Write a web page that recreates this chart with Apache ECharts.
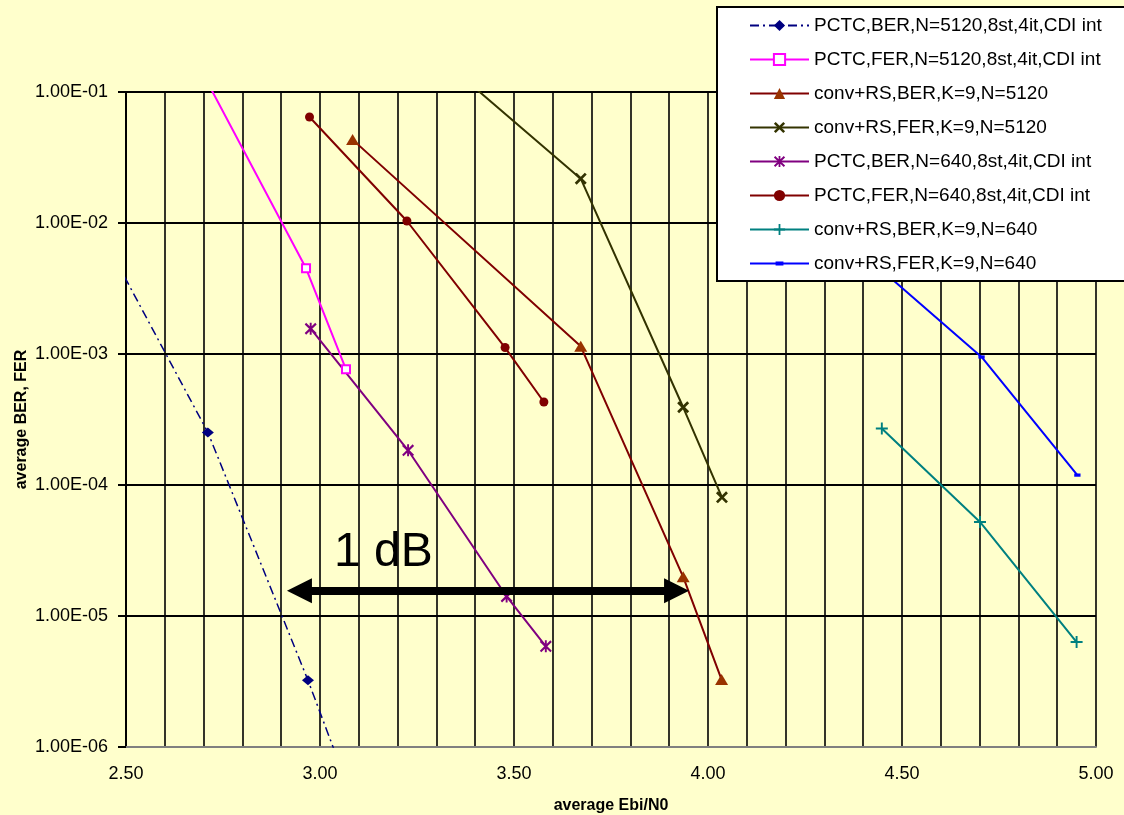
<!DOCTYPE html>
<html>
<head>
<meta charset="utf-8">
<script src="https://cdn.jsdelivr.net/npm/echarts@6/dist/echarts.min.js"></script>
<style>
html,body{margin:0;padding:0;background:#FFFFCC;}
#c{width:1124px;height:815px;}
</style>
</head>
<body>
<div id="c"></div>
<script>
const FONT = '"Liberation Sans", Arial, sans-serif';

// ---- data (x = average Ebi/N0, y = average BER / FER) ----
const names = [
  'PCTC,BER,N=5120,8st,4it,CDI int',
  'PCTC,FER,N=5120,8st,4it,CDI int',
  'conv+RS,BER,K=9,N=5120',
  'conv+RS,FER,K=9,N=5120',
  'PCTC,BER,N=640,8st,4it,CDI int',
  'PCTC,FER,N=640,8st,4it,CDI int',
  'conv+RS,BER,K=9,N=640',
  'conv+RS,FER,K=9,N=640'
];
const xPctcBer5120 = [2.45, 2.711, 2.969, 3.06];
const yPctcBer5120 = [7.0e-3, 2.52e-4, 3.23e-6, 6.2e-7];
const xPctcFer5120 = [2.70, 2.964, 3.067];
const yPctcFer5120 = [0.135, 4.51e-3, 7.64e-4];
const xConvBer5120 = [3.084, 3.672, 3.936, 4.035];
const yConvBer5120 = [0.0433, 1.145e-3, 1.99e-5, 3.27e-6];
const xConvFer5120 = [3.40, 3.672, 3.936, 4.036];
const yConvFer5120 = [0.107, 0.0218, 3.92e-4, 8.05e-5];
const xPctcBer640 = [2.976, 3.227, 3.481, 3.582];
const yPctcBer640 = [1.56e-3, 1.84e-4, 1.41e-5, 5.87e-6];
const xPctcFer640 = [2.973, 3.224, 3.477, 3.577];
const yPctcFer640 = [0.0644, 0.01036, 1.12e-3, 4.3e-4];
const xConvBer640 = [4.448, 4.701, 4.950];
const yConvBer640 = [2.70e-4, 5.22e-5, 6.33e-6];
const xConvFer640 = [4.45, 4.705, 4.952];
const yConvFer640 = [4.3e-3, 9.49e-4, 1.19e-4];

// axis ranges
const xMin = 2.5, xMax = 5.0, xStep = 0.1;
const yMin = 1e-6, yMax = 1e-1;

// "1 dB" annotation (data coordinates)
const dbArrowX = [2.947, 3.919];
const dbArrowY = 1.56e-5;
const dbText = '1 dB';
const dbTextPos = [3.036, 3.06e-5];

const xTitle = 'average Ebi/N0';
const yTitle = 'average BER, FER';

// ---- helpers ----
function pts(xs, ys) { return xs.map((x, i) => [x, ys[i]]); }
function fmtE(v) {
  const e = Math.round(Math.log10(v));
  const m = v / Math.pow(10, e);
  const a = Math.abs(e);
  return m.toFixed(2) + 'E' + (e < 0 ? '-' : '+') + (a < 10 ? '0' + a : a);
}
const SYM_X = 'path://M0 1.6L1.6 0L10 8.4L8.4 10ZM8.4 0L10 1.6L1.6 10L0 8.4Z';
const SYM_STAR = 'path://M4.2 0H5.8V10H4.2ZM0 1.4L1.2 0L10 8.6L8.8 10ZM8.8 0L10 1.4L1.2 10L0 8.6Z';
const SYM_PLUS = 'path://M4.2 0H5.8V10H4.2ZM0 4.2H10V5.8H0Z';
const SYM_DASH = 'path://M0 0M10 10M1.5 3.2H8.5V6.8H1.5Z';

function mk(name, data, lineColor, symColor, symbol, size, extra) {
  const s = {
    name: name,
    type: 'line',
    data: data,
    symbol: symbol,
    symbolSize: size,
    showAllSymbol: true,
    clip: true,
    lineStyle: { color: lineColor, width: 2 },
    itemStyle: { color: symColor, borderWidth: 0 },
    emphasis: { disabled: true },
    animation: false
  };
  return Object.assign(s, extra || {});
}

const series = [
  mk(names[0], pts(xPctcBer5120, yPctcBer5120), '#000080', '#000080', 'diamond', [12, 10],
     { lineStyle: { color: '#000080', width: 1.5, type: [9, 4, 2, 4] } }),
  mk(names[1], pts(xPctcFer5120, yPctcFer5120), '#FF00FF', '#FF00FF', 'emptyRect', 8,
     { itemStyle: { color: '#FF00FF', borderWidth: 1.8 } }),
  mk(names[2], pts(xConvBer5120, yConvBer5120), '#800000', '#993300', 'triangle', [13, 11]),
  mk(names[3], pts(xConvFer5120, yConvFer5120), '#333300', '#333300', SYM_X, 12),
  mk(names[4], pts(xPctcBer640, yPctcBer640), '#800080', '#800080', SYM_STAR, 12),
  mk(names[5], pts(xPctcFer640, yPctcFer640), '#800000', '#800000', 'circle', 9),
  mk(names[6], pts(xConvBer640, yConvBer640), '#008080', '#008080', SYM_PLUS, 12),
  mk(names[7], pts(xConvFer640, yConvFer640), '#0000FF', '#0000FF', SYM_DASH, 9)
];

// arrow annotation as a markLine on an empty helper series
series.push({
  type: 'line',
  name: '__arrow',
  data: [],
  animation: false,
  markLine: {
    silent: true,
    animation: false,
    symbol: ['triangle', 'triangle'],
    symbolSize: 25,
    label: { show: false },
    lineStyle: { color: '#000', width: 8, type: 'solid' },
    emphasis: { disabled: true },
    data: [[{ coord: [dbArrowX[0], dbArrowY] }, { coord: [dbArrowX[1], dbArrowY] }]]
  }
});

const option = {
  backgroundColor: '#FFFFCC',
  animation: false,
  textStyle: { fontFamily: FONT },
  grid: { left: 126, right: 28, top: 92, bottom: 68, containLabel: false, outerBoundsMode: 'none', show: false },
  xAxis: {
    type: 'value',
    min: xMin, max: xMax, interval: xStep,
    name: xTitle,
    nameLocation: 'middle',
    nameGap: 51,
    nameMoveOverlap: false,
    nameTextStyle: { fontFamily: FONT, fontSize: 16, fontWeight: 'bold', color: '#000' },
    axisLine: { show: true, onZero: false, lineStyle: { color: '#808080', width: 2 } },
    axisTick: { show: false },
    axisLabel: {
      margin: 18,
      fontFamily: FONT, fontSize: 18, color: '#000',
      formatter: function (v) {
        const t = Math.round(v * 10);
        return (t % 5 === 0) ? (t / 10).toFixed(2) : '';
      }
    },
    splitLine: { show: true, lineStyle: { color: '#000', width: 1.6 } }
  },
  yAxis: {
    type: 'log',
    logBase: 10,
    min: yMin, max: yMax,
    name: yTitle,
    nameLocation: 'middle',
    nameGap: 96,
    nameRotate: 90,
    nameMoveOverlap: false,
    nameTextStyle: { fontFamily: FONT, fontSize: 16, fontWeight: 'bold', color: '#000' },
    axisLine: { show: true, lineStyle: { color: '#000', width: 2 } },
    axisTick: { show: true, length: 8, lineStyle: { color: '#000', width: 2 } },
    axisLabel: { margin: 18, fontFamily: FONT, fontSize: 18, color: '#000', formatter: fmtE },
    splitLine: { show: true, lineStyle: { color: '#000', width: 2 } }
  },
  legend: {
    data: names,
    orient: 'vertical',
    left: 717,
    top: 7,
    padding: [9, 40, 8, 32],
    itemWidth: 59,
    itemHeight: 14,
    itemGap: 15,
    backgroundColor: '#FFFFFF',
    borderColor: '#000',
    borderWidth: 2,
    borderRadius: 0,
    selectedMode: false,
    textStyle: { fontFamily: FONT, fontSize: 19, color: '#000' }
  },
  series: series
};

const chart = echarts.init(document.getElementById('c'), null, { renderer: 'canvas' });
chart.setOption(option);

const p = chart.convertToPixel({ xAxisIndex: 0, yAxisIndex: 0 }, dbTextPos);
chart.setOption({
  graphic: [{
    type: 'text',
    left: p[0],
    top: p[1] - 24,
    z: 50,
    silent: true,
    style: {
      text: dbText,
      font: '48px ' + FONT,
      fill: '#000'
    }
  }]
});
</script>
</body>
</html>
